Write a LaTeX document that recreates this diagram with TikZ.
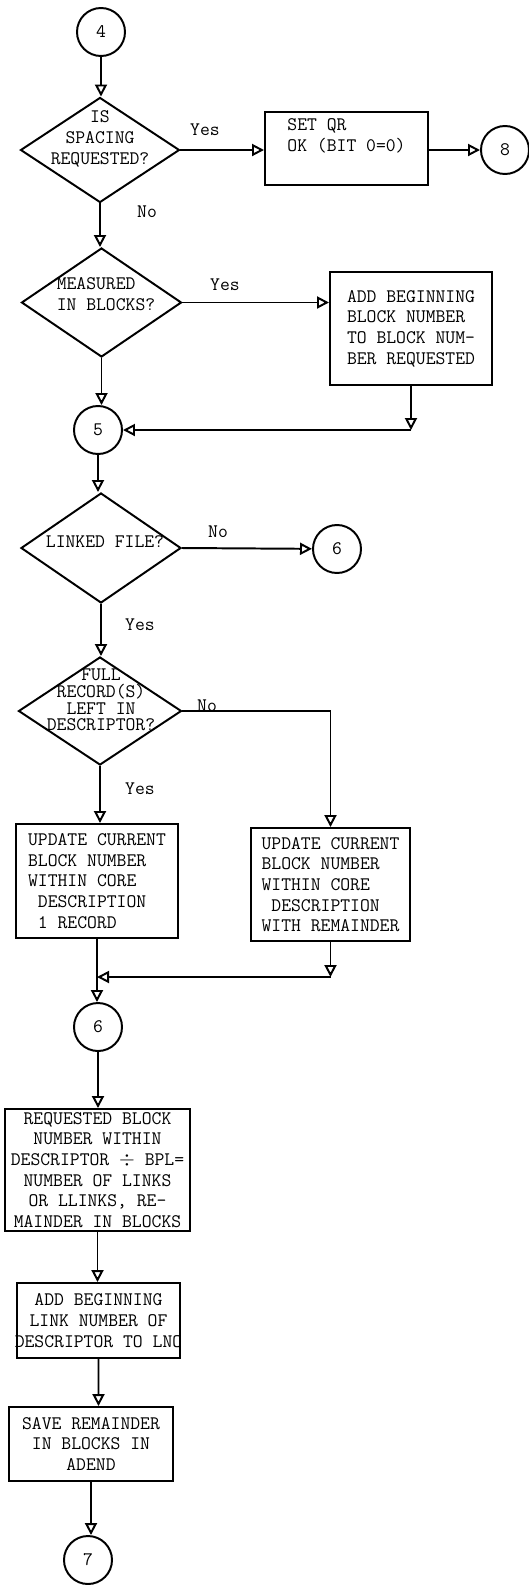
\documentclass[tikz,border=0pt]{standalone}
\usetikzlibrary{arrows.meta, shapes.geometric}

\begin{document}
\begin{tikzpicture}[
    font=\ttfamily\fontsize{13.6}{14.7}\selectfont,
    conn/.style={circle, draw, line width=1.4pt, minimum size=1.2cm, inner sep=0pt},
    decision/.style={diamond, draw, line width=1.4pt, inner sep=0pt},
    dtext/.style={align=center, inner sep=0pt},
    process/.style={rectangle, draw, line width=1.4pt, inner sep=0pt, align=center},
    flow/.style={-{Triangle[open, length=0.3cm, width=0.3cm]}, line width=1.4pt},
    lbl/.style={inner sep=0pt}
]
    \useasboundingbox (0,0) rectangle (13.225,-39.625);

    \node[conn] (c4) at (2.525,-0.8) {4};
    \node[decision, minimum width=3.975cm, minimum height=2.625cm] (d1) at (2.5,-3.75) {};
    \node[dtext] (t1) at (2.5,-3.475) {IS\\SPACING\\REQUESTED?};
    \node[process, align=left, minimum width=4.075cm, minimum height=1.825cm] (setqr) at (8.6625,-3.7125) {SET QR\\OK (BIT 0=0)\\\strut};
    \node[conn] (c8) at (12.625,-3.75) {8};

    \node[decision, minimum width=4cm, minimum height=2.725cm] (d2) at (2.5375,-7.5625) {};
    \node[dtext, align=left] (t2) at (2.65,-7.35) {MEASURED\\IN BLOCKS?};
    \node[process, align=left, minimum width=4.05cm, minimum height=2.825cm] (add1) at (10.275,-8.2125) {ADD BEGINNING\\BLOCK NUMBER\\TO BLOCK NUM-\\BER REQUESTED};
    \node[conn] (c5) at (2.45,-10.75) {5};

    \node[decision, minimum width=4cm, minimum height=2.75cm] (d3) at (2.525,-13.7) {};
    \node[dtext] (t3) at (2.625,-13.55) {LINKED FILE?};
    \node[conn] (c6a) at (8.425,-13.725) {6};

    \node[decision, minimum width=4.075cm, minimum height=2.7cm] (d4) at (2.5,-17.775) {};
    \node[dtext, font=\ttfamily\fontsize{13.6}{11.8}\selectfont] (t4) at (2.525,-17.5) {FULL\\RECORD(S)\\LEFT IN\\DESCRIPTOR?};

    \node[process, align=left, minimum width=4.05cm, minimum height=2.85cm] (upd1) at (2.425,-22.025) {UPDATE CURRENT\\BLOCK NUMBER\\WITHIN CORE\\\phantom{X}DESCRIPTION\\\phantom{X}1 RECORD};
    \node[process, align=left, minimum width=3.975cm, minimum height=2.825cm] (upd2) at (8.2625,-22.1125) {UPDATE CURRENT\\BLOCK NUMBER\\WITHIN CORE\\\phantom{X}DESCRIPTION\\WITH REMAINDER};
    \coordinate (mg) at (8.2625,-24.425);
    \node[conn] (c6b) at (2.45,-25.675) {6};

    \node[process, minimum width=4.625cm, minimum height=3.05cm] (req) at (2.4375,-29.25) {REQUESTED BLOCK\\NUMBER WITHIN\\DESCRIPTOR $\div$ BPL=\\NUMBER OF LINKS\\OR LLINKS, RE-\\MAINDER IN BLOCKS};
    \node[process, inner xsep=-0.11cm, minimum width=4.075cm, minimum height=1.875cm] (add2) at (2.4625,-33.0125) {ADD BEGINNING\\LINK NUMBER OF\\DESCRIPTOR TO LNO};
    \node[process, minimum width=4.1cm, minimum height=1.85cm] (save) at (2.275,-36.1) {SAVE REMAINDER\\IN BLOCKS IN\\ADEND};
    \node[conn] (c7) at (2.2,-39.0) {7};

    \node[lbl] (yes1) at (5.125,-3.25) {Yes};
    \node[lbl] (no1) at (3.675,-5.3) {No};
    \node[lbl] (yes2) at (5.625,-7.125) {Yes};
    \node[lbl] (no3) at (5.45,-13.3) {No};
    \node[lbl] (yes3) at (3.5,-15.625) {Yes};
    \node[lbl] (no4) at (5.175,-17.65) {No};
    \node[lbl] (yes4) at (3.5,-19.725) {Yes};

    \draw[flow] (c4) -- (c4 |- d1.north);
    \draw[flow] (d1.east) -- (d1.east -| setqr.west);
    \draw[flow] (setqr.east |- c8) -- (c8);
    \draw[flow] (d1) -- (d1 |- d2.north);
    \draw[flow] (d2.east) -- (d2.east -| add1.west);
    \coordinate (m5) at (add1.south |- c5);
    \draw[flow] (add1) -- (m5);
    \draw[flow] (m5) -- (c5);
    \draw[flow] (d2) -- (d2 |- c5.north);
    \draw[flow] (c5) -- (c5 |- d3.north);
    \draw[flow] (d3.east) -- (c6a);
    \draw[flow] (d3) -- (d3 |- d4.north);
    \draw[flow] (d4) -- (d4 |- upd1.north);
    \draw[flow] (d4.east) -| (upd2.north);
    \draw[flow] (upd2) -- (mg);
    \draw[flow] (mg) -- (mg -| upd1.south);
    \draw[flow] (upd1) -- (upd1 |- c6b.north);
    \draw[flow] (c6b) -- (c6b |- req.north);
    \draw[flow] (req) -- (req |- add2.north);
    \draw[flow] (add2) -- (add2 |- save.north);
    \draw[flow] (save) -- (save |- c7.north);
\end{tikzpicture}
\end{document}
